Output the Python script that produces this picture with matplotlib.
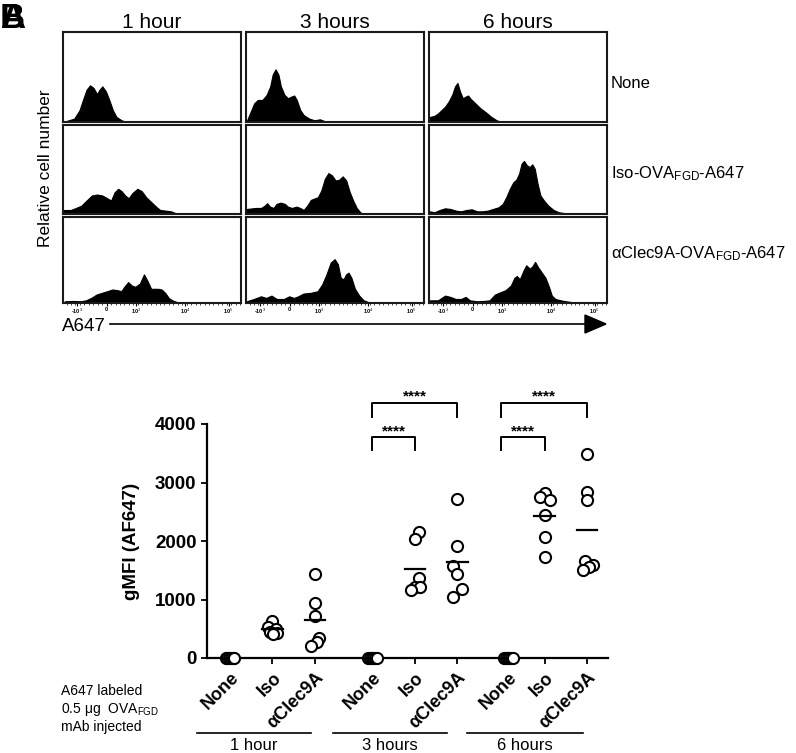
import numpy as np
import matplotlib
matplotlib.use('Agg')
import matplotlib.pyplot as plt
from matplotlib.patches import Polygon

plt.rcParams['font.family'] = ['Liberation Sans', 'DejaVu Sans']
plt.rcParams['mathtext.fontset'] = 'custom'
plt.rcParams['mathtext.rm'] = 'Liberation Sans'
plt.rcParams['mathtext.it'] = 'Liberation Sans:italic'
plt.rcParams['mathtext.bf'] = 'Liberation Sans:bold'

# ---------------- data: histograms (x = fraction of axis, y = fraction of panel height)
h1_none_x = [0.014, 0.063, 0.093, 0.112, 0.132, 0.152, 0.172, 0.191, 0.205, 0.221, 0.241, 0.260, 0.280, 0.300, 0.329, 0.359]
h1_none_y = [0.008, 0.038, 0.132, 0.245, 0.358, 0.408, 0.377, 0.309, 0.358, 0.396, 0.340, 0.245, 0.132, 0.057, 0.019, 0.0]
h3_none_x = [0.006, 0.026, 0.046, 0.066, 0.092, 0.116, 0.136, 0.150, 0.166, 0.182, 0.196, 0.216, 0.236, 0.255, 0.271, 0.285, 0.305, 0.325, 0.355, 0.385, 0.415, 0.435, 0.455]
h3_none_y = [0.019, 0.113, 0.208, 0.245, 0.245, 0.302, 0.396, 0.528, 0.585, 0.528, 0.396, 0.302, 0.264, 0.283, 0.294, 0.245, 0.132, 0.075, 0.038, 0.019, 0.030, 0.015, 0.0]
h6_none_x = [0.006, 0.030, 0.050, 0.070, 0.090, 0.110, 0.130, 0.146, 0.160, 0.174, 0.190, 0.206, 0.220, 0.234, 0.260, 0.290, 0.320, 0.350, 0.380, 0.410]
h6_none_y = [0.057, 0.068, 0.094, 0.132, 0.170, 0.226, 0.302, 0.396, 0.434, 0.340, 0.264, 0.283, 0.294, 0.257, 0.208, 0.151, 0.106, 0.057, 0.019, 0.0]

h1_iso_x = [0.004, 0.043, 0.073, 0.103, 0.132, 0.162, 0.191, 0.221, 0.245, 0.270, 0.290, 0.310, 0.329, 0.349, 0.369, 0.389, 0.418, 0.442, 0.467, 0.497, 0.527, 0.546, 0.576, 0.606, 0.635, 0.665]
h1_iso_y = [0.045, 0.045, 0.068, 0.094, 0.151, 0.208, 0.219, 0.208, 0.181, 0.151, 0.245, 0.283, 0.257, 0.208, 0.177, 0.234, 0.283, 0.257, 0.189, 0.132, 0.075, 0.045, 0.038, 0.030, 0.008, 0.0]
h3_iso_x = [0.006, 0.056, 0.085, 0.105, 0.119, 0.135, 0.155, 0.171, 0.195, 0.219, 0.235, 0.258, 0.284, 0.304, 0.324, 0.344, 0.364, 0.384, 0.404, 0.423, 0.443, 0.463, 0.483, 0.503, 0.523, 0.543, 0.563, 0.583, 0.602, 0.622, 0.642, 0.662]
h3_iso_y = [0.057, 0.068, 0.068, 0.094, 0.121, 0.083, 0.068, 0.113, 0.128, 0.113, 0.083, 0.068, 0.083, 0.068, 0.045, 0.094, 0.158, 0.174, 0.189, 0.264, 0.396, 0.460, 0.434, 0.377, 0.385, 0.423, 0.377, 0.245, 0.151, 0.068, 0.019, 0.0]
h6_iso_x = [0.006, 0.030, 0.060, 0.090, 0.120, 0.150, 0.180, 0.210, 0.240, 0.270, 0.300, 0.330, 0.360, 0.390, 0.414, 0.434, 0.454, 0.474, 0.490, 0.506, 0.520, 0.534, 0.550, 0.566, 0.580, 0.594, 0.610, 0.626, 0.646, 0.670, 0.700, 0.730, 0.770, 0.810]
h6_iso_y = [0.030, 0.019, 0.045, 0.064, 0.057, 0.038, 0.030, 0.045, 0.053, 0.030, 0.030, 0.038, 0.057, 0.075, 0.113, 0.189, 0.283, 0.358, 0.385, 0.453, 0.566, 0.596, 0.547, 0.528, 0.558, 0.509, 0.340, 0.208, 0.151, 0.094, 0.045, 0.019, 0.008, 0.0]

h1_clec_x = [0.010, 0.059, 0.099, 0.129, 0.158, 0.188, 0.218, 0.248, 0.277, 0.307, 0.327, 0.347, 0.366, 0.386, 0.406, 0.432, 0.455, 0.475, 0.495, 0.515, 0.535, 0.554, 0.574, 0.594, 0.614, 0.644, 0.673]
h1_clec_y = [0.020, 0.024, 0.020, 0.031, 0.059, 0.098, 0.118, 0.137, 0.157, 0.149, 0.137, 0.196, 0.243, 0.204, 0.188, 0.227, 0.333, 0.255, 0.165, 0.165, 0.165, 0.157, 0.118, 0.059, 0.031, 0.008, 0.0]
h3_clec_x = [0.004, 0.044, 0.084, 0.114, 0.143, 0.173, 0.213, 0.243, 0.269, 0.293, 0.323, 0.363, 0.402, 0.428, 0.452, 0.476, 0.498, 0.516, 0.532, 0.548, 0.562, 0.576, 0.592, 0.612, 0.636, 0.661, 0.691, 0.721]
h3_clec_y = [0.020, 0.047, 0.078, 0.059, 0.086, 0.047, 0.047, 0.078, 0.059, 0.078, 0.110, 0.118, 0.137, 0.216, 0.333, 0.471, 0.510, 0.451, 0.294, 0.275, 0.333, 0.353, 0.294, 0.165, 0.086, 0.031, 0.008, 0.0]
h6_clec_x = [0.006, 0.050, 0.090, 0.120, 0.150, 0.180, 0.206, 0.230, 0.270, 0.310, 0.340, 0.370, 0.400, 0.430, 0.460, 0.480, 0.494, 0.510, 0.530, 0.546, 0.566, 0.580, 0.596, 0.614, 0.634, 0.654, 0.674, 0.690, 0.710, 0.740, 0.770, 0.810, 0.850]
h6_clec_y = [0.031, 0.031, 0.086, 0.071, 0.047, 0.047, 0.071, 0.031, 0.020, 0.024, 0.031, 0.098, 0.125, 0.149, 0.204, 0.294, 0.314, 0.275, 0.373, 0.439, 0.400, 0.424, 0.478, 0.412, 0.353, 0.294, 0.188, 0.086, 0.047, 0.031, 0.020, 0.008, 0.0]

time_labels = ['1 hour', '3 hours', '6 hours']
row_labels = ['None', 'Iso-OVA$_{\\mathregular{FGD}}$-A647', '\u03b1Clec9A-OVA$_{\\mathregular{FGD}}$-A647']
flow_tick_labels = ['-10$^{3}$', '0', '10$^{3}$', '10$^{4}$', '10$^{5}$']
flow_tick_pos = [0.08, 0.245, 0.41, 0.685, 0.93]

# ---------------- data: gMFI scatter
categories = ['None', 'Iso', '\u03b1Clec9A'] * 3
none_1h = [0, 0, 0, 0, 0, 0]
iso_1h = [640, 535, 500, 445, 430, 410]
clec_1h = [1436, 946, 724, 336, 268, 211]
none_3h = [0, 0, 0, 0, 0, 0]
iso_3h = [2160, 2034, 1373, 1219, 1208, 1162]
clec_3h = [2718, 1920, 1573, 1436, 1185, 1048]
none_6h = [0, 0, 0, 0, 0, 0]
iso_6h = [2815, 2758, 2701, 2444, 2074, 1732]
clec_6h = [3487, 2843, 2701, 1650, 1590, 1560, 1500]
yticks = [0, 1000, 2000, 3000, 4000]
sig_label = '****'

# ---------------- layout
W, H = 796, 753
fig = plt.figure(figsize=(W / 100, H / 100), dpi=100)

over = fig.add_axes([0, 0, 1, 1])
over.set_xlim(0, W)
over.set_ylim(H, 0)
over.axis('off')


def px_axes(x0, y0, x1, y1):
    return fig.add_axes([x0 / W, 1 - y1 / H, (x1 - x0) / W, (y1 - y0) / H])


col_x = [(63, 241), (246, 424), (429, 607)]
row_y = [(32, 122), (125, 214), (217, 303)]
hists = [[(h1_none_x, h1_none_y), (h3_none_x, h3_none_y), (h6_none_x, h6_none_y)],
         [(h1_iso_x, h1_iso_y), (h3_iso_x, h3_iso_y), (h6_iso_x, h6_iso_y)],
         [(h1_clec_x, h1_clec_y), (h3_clec_x, h3_clec_y), (h6_clec_x, h6_clec_y)]]

for r in range(3):
    for c in range(3):
        a = px_axes(col_x[c][0], row_y[r][0], col_x[c][1], row_y[r][1])
        hx, hy = hists[r][c]
        a.fill_between(hx, 0, hy, color='black', lw=0.8, edgecolor='black')
        a.set_xlim(0, 1)
        a.set_ylim(0, 1)
        for s in a.spines.values():
            s.set_linewidth(1.5)
            s.set_color('#1a1a1a')
        a.set_yticks([])
        if r == 2:
            a.set_xticks(flow_tick_pos)
            a.set_xticklabels(flow_tick_labels, fontsize=4, fontweight='bold')
            a.set_xticks(np.arange(0.02, 1.0, 0.025), minor=True)
            a.tick_params(axis='x', which='major', length=2.5, width=0.8, pad=0.5)
            a.tick_params(axis='x', which='minor', length=1.2, width=0.5)
        else:
            a.set_xticks([])

for c in range(3):
    over.text((col_x[c][0] + col_x[c][1]) / 2, 22, time_labels[c], ha='center', va='center', fontsize=15)

for r, yy in enumerate([83, 174, 254]):
    over.text(611, yy, row_labels[r], ha='left', va='center', fontsize=12)

over.text(46, 168, 'Relative cell number', rotation=90, ha='center', va='center', fontsize=12.5)
over.text(62, 331, 'A647', ha='left', va='baseline', fontsize=13.5)
over.plot([110, 588], [324, 324], color='black', lw=1.2)
over.add_patch(Polygon([[585, 315], [606, 324], [585, 333]], closed=True, color='black'))

over.text(0, 28, 'A', fontsize=25, fontweight='bold', ha='left', va='baseline')
over.text(0, 28, 'B', fontsize=25, fontweight='bold', ha='left', va='baseline')

# ---------------- scatter
ax = px_axes(207, 424, 608, 658)
positions = [0, 1, 2, 3.35, 4.35, 5.35, 6.55, 7.4, 8.4]
groups = [none_1h, iso_1h, clec_1h, none_3h, iso_3h, clec_3h, none_6h, iso_6h, clec_6h]
offsets = [
    [-0.1, -0.06, -0.02, 0.02, 0.06, 0.1],
    [0.0, -0.1, 0.08, -0.07, 0.1, 0.02],
    [0.0, 0.0, 0.0, 0.1, 0.05, -0.1],
    [-0.1, -0.06, -0.02, 0.02, 0.06, 0.1],
    [0.1, 0.0, 0.1, 0.0, 0.12, -0.1],
    [0.0, 0.0, -0.1, 0.0, 0.1, -0.1],
    [-0.1, -0.06, -0.02, 0.02, 0.06, 0.1],
    [0.0, -0.12, 0.12, 0.0, 0.0, 0.0],
    [0.0, 0.0, 0.0, -0.06, 0.13, 0.05, -0.1],
]
for p, vals, off in zip(positions, groups, offsets):
    xs = [p + o for o in off]
    ax.plot(xs, vals, 'o', ms=8, mfc='white', mec='black', mew=1.5, clip_on=False, zorder=3)
    m = np.mean(vals)
    if m > 0:
        ax.plot([p - 0.24, p + 0.24], [m, m], color='black', lw=1.6, zorder=4)

ax.set_xlim(-0.54, 8.89)
ax.set_ylim(0, 4000)
ax.spines['top'].set_visible(False)
ax.spines['right'].set_visible(False)
ax.spines['left'].set_linewidth(1.6)
ax.spines['bottom'].set_linewidth(1.6)
ax.set_yticks(yticks)
ax.set_yticklabels([str(v) for v in yticks], fontsize=13.5, fontweight='bold')
ax.set_xticks(positions)
ax.set_xticklabels(categories, fontsize=13, fontweight='bold', rotation=45, ha='right',
                   rotation_mode='anchor')
ax.tick_params(axis='both', length=4, width=1.3)
ax.tick_params(axis='x', pad=4)
ax.patch.set_alpha(0)

over.text(132, 541, 'gMFI (AF647)', rotation=90, ha='center', va='center', fontsize=13.5, fontweight='bold')

# significance brackets
brackets = [(3.35, 5.35, 4360, 4120, 4470), (3.35, 4.35, 3780, 3556, 3880),
            (6.38, 8.4, 4360, 4120, 4470), (6.38, 7.4, 3780, 3556, 3880)]
for x0, x1, ytop, yleg, ytxt in brackets:
    ax.plot([x0, x0, x1, x1], [yleg, ytop, ytop, yleg], color='black', lw=1.4, clip_on=False)
    ax.text((x0 + x1) / 2, ytxt, sig_label, ha='center', va='center', fontsize=11, fontweight='bold')

# group labels
for (x0, x1), t in zip([(197, 311), (333, 447), (467, 583)], time_labels):
    over.plot([x0, x1], [733, 733], color='black', lw=1.2)
    over.text((x0 + x1) / 2, 745, t, ha='center', va='center', fontsize=12)

over.text(61, 691, 'A647 labeled', ha='left', va='center', fontsize=10)
over.text(61, 709, '0.5 \u03bcg  OVA$_{\\mathregular{FGD}}$', ha='left', va='center', fontsize=10)
over.text(61, 727, 'mAb injected', ha='left', va='center', fontsize=10)

fig.savefig('out.png', dpi=100)
